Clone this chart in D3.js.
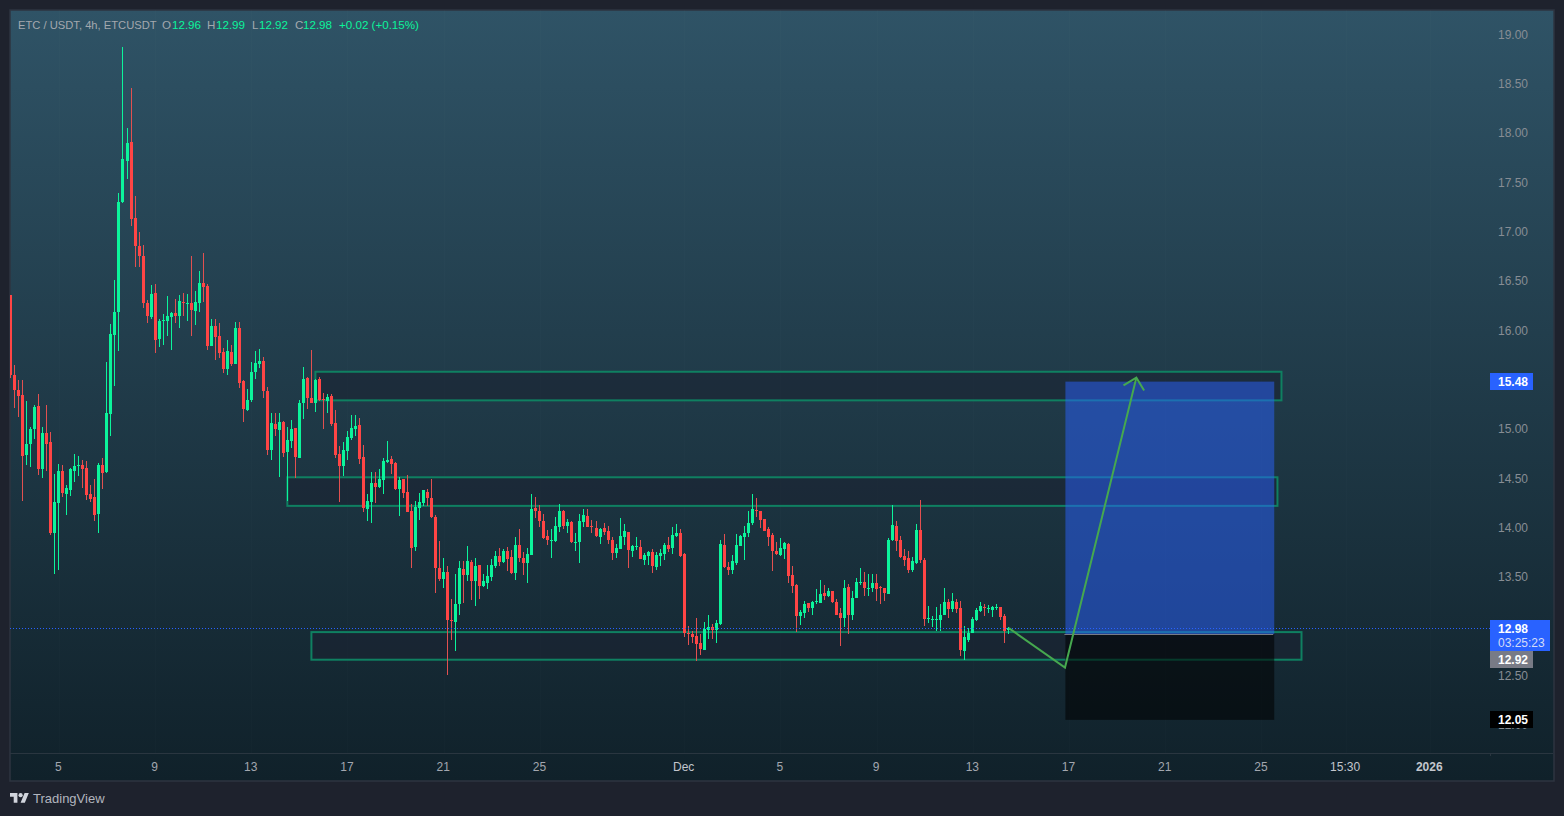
<!DOCTYPE html>
<html lang="en">
<head>
<meta charset="UTF-8">
<title>ETC / USDT, 4h</title>
<script src="https://d3js.org/d3.v7.min.js"></script>
<style>
  body, html { margin: 0; padding: 0; width: 100%; height: 100%; background: #1e222d; overflow: hidden; }
  svg { display: block; }
  text { font-family: "Liberation Sans", Arial, sans-serif; font-size: 12px; }
  .axis path { stroke: none; }
  .axis line { stroke: none; }
  .price-axis text { fill: #878d94; text-anchor: start; }
  .time-axis text { fill: #a3a7af; }
</style>
</head>
<body>
<svg id="chart" width="1564" height="816"></svg>
<script>
// 4h candles, oldest first
const opens = [
  16.36,15.55,15.39,15.34,14.74,14.85,15.00,15.23,14.59,14.96,
  14.87,13.94,14.25,14.57,14.34,14.38,14.57,14.62,14.63,14.60,
  14.34,14.31,14.14,14.63,14.56,15.15,15.95,16.19,17.30,17.72,
  17.91,17.14,16.86,16.75,16.28,16.14,16.38,15.91,16.09,16.09,
  16.14,16.18,16.15,16.29,16.27,16.28,16.20,16.28,16.48,16.45,
  15.84,16.04,15.94,15.78,15.61,15.78,15.66,16.02,15.49,15.19,
  15.29,15.58,15.66,15.69,15.38,14.79,15.05,14.99,15.07,14.77,
  14.88,15.01,14.71,15.26,15.52,15.31,15.26,15.51,15.30,15.28,
  15.33,15.06,14.75,14.62,14.78,14.91,15.00,15.04,14.72,14.19,
  14.26,14.45,14.41,14.48,14.66,14.70,14.65,14.39,14.49,14.36,
  14.17,13.80,14.20,14.25,14.36,14.30,14.11,13.59,13.48,13.55,
  13.06,13.04,13.22,13.58,13.52,13.65,13.46,13.62,13.41,13.44,
  13.50,13.61,13.71,13.65,13.76,13.70,13.54,13.82,13.69,13.64,
  13.72,14.20,14.17,14.07,13.91,13.86,13.86,14.01,14.17,14.02,
  14.06,13.84,13.85,14.06,14.12,14.02,14.00,13.90,14.00,13.97,
  13.87,13.74,13.78,13.90,13.96,13.76,13.80,13.80,13.67,13.71,
  13.75,13.60,13.71,13.73,13.82,13.79,13.91,13.94,13.73,12.93,
  12.92,12.90,12.83,12.76,12.96,12.99,12.96,13.02,13.82,13.60,
  13.57,13.64,13.81,13.90,13.95,14.05,14.18,14.17,14.09,13.99,
  13.92,13.76,13.72,13.78,13.83,13.52,13.42,13.10,13.13,13.24,
  13.18,13.25,13.24,13.34,13.31,13.36,13.25,13.13,13.08,13.40,
  13.11,13.29,13.44,13.45,13.38,13.39,13.44,13.40,13.39,13.33,
  13.87,14.02,13.87,13.71,13.69,13.57,13.64,13.98,13.67,13.07,
  13.06,13.06,13.06,13.11,13.25,13.17,13.25,13.18,12.75,12.86,
  12.93,13.06,13.15,13.19,13.17,13.16,13.18,13.19,13.10,12.96
];
const highs = [
  16.36,15.65,15.50,15.50,15.28,15.02,15.24,15.35,15.02,15.24,
  14.97,14.54,14.64,14.63,14.43,14.60,14.75,14.73,14.69,14.67,
  14.43,14.49,14.65,14.71,15.68,16.06,16.51,17.39,18.87,18.05,
  18.46,17.36,17.00,16.87,16.31,16.46,16.47,16.12,16.17,16.35,
  16.19,16.32,16.36,16.38,16.37,16.75,16.40,16.60,16.78,16.47,
  16.11,16.11,16.07,15.82,15.90,15.85,16.08,16.08,15.50,15.41,
  15.68,15.79,15.81,15.73,15.43,15.16,15.16,15.16,15.08,15.02,
  15.09,15.01,15.29,15.63,15.53,15.80,15.51,15.53,15.36,15.35,
  15.35,15.19,14.83,14.87,14.98,15.14,15.14,15.11,14.84,14.34,
  14.56,14.56,14.59,14.71,14.88,14.73,14.66,14.51,14.49,14.53,
  14.24,14.27,14.35,14.38,14.39,14.49,14.13,13.86,13.69,13.61,
  13.28,13.53,13.66,13.66,13.81,13.67,13.69,13.62,13.53,13.62,
  13.68,13.76,13.79,13.78,13.80,13.77,13.90,13.99,13.75,13.79,
  14.34,14.31,14.23,14.14,13.98,13.99,14.11,14.24,14.18,14.09,
  14.07,13.95,14.14,14.19,14.19,14.08,14.07,14.00,14.05,14.02,
  13.90,13.83,14.10,14.04,13.96,13.82,13.90,13.87,13.74,13.76,
  13.78,13.75,13.78,13.84,13.90,14.01,14.04,13.99,13.74,13.00,
  12.95,13.08,12.92,13.04,13.11,13.02,13.06,13.87,13.93,13.65,
  13.72,13.93,13.92,14.02,14.17,14.34,14.30,14.17,14.09,14.01,
  13.95,13.85,13.89,13.85,13.84,13.61,13.43,13.16,13.26,13.24,
  13.26,13.38,13.47,13.42,13.39,13.36,13.28,13.18,13.47,13.43,
  13.36,13.49,13.59,13.55,13.53,13.53,13.53,13.41,13.39,13.89,
  14.23,14.07,13.91,13.78,13.76,13.70,14.04,14.28,13.69,13.20,
  13.10,13.19,13.23,13.39,13.28,13.34,13.28,13.26,13.00,12.98,
  13.09,13.18,13.25,13.22,13.21,13.20,13.23,13.19,13.12,12.99
];
const lows = [
  15.52,15.21,15.12,14.27,14.63,14.61,14.90,14.53,14.50,14.57,
  13.92,13.53,13.57,14.31,14.13,14.32,14.46,14.52,14.40,14.28,
  14.26,14.07,13.95,14.39,14.55,14.93,15.44,15.79,17.29,17.53,
  17.06,16.64,16.64,16.23,16.07,16.11,15.77,15.83,15.85,15.94,
  15.80,16.07,16.02,16.15,16.09,15.94,16.05,16.19,16.29,15.80,
  15.84,15.70,15.72,15.57,15.55,15.64,15.66,15.42,15.07,15.18,
  15.27,15.51,15.62,15.31,14.74,14.69,14.93,14.51,14.72,14.27,
  14.81,14.50,14.71,15.10,15.20,15.26,15.17,15.28,15.00,15.16,
  15.03,14.71,14.26,14.52,14.69,14.89,14.93,14.64,14.16,14.07,
  14.05,14.25,14.40,14.34,14.65,14.54,14.38,14.12,14.30,14.16,
  13.59,13.76,14.08,14.22,14.22,14.10,13.34,13.46,13.39,12.50,
  12.86,12.75,13.11,13.24,13.46,13.27,13.20,13.28,13.40,13.38,
  13.46,13.59,13.61,13.64,13.56,13.53,13.47,13.65,13.52,13.44,
  13.72,14.10,14.01,13.88,13.82,13.69,13.85,13.96,13.99,13.94,
  13.84,13.76,13.64,14.01,14.01,13.94,13.90,13.83,13.92,13.83,
  13.67,13.69,13.78,13.82,13.59,13.70,13.77,13.68,13.62,13.62,
  13.54,13.57,13.61,13.67,13.75,13.73,13.90,13.70,12.89,12.81,
  12.83,12.65,12.71,12.76,12.87,12.87,12.83,13.01,13.59,13.52,
  13.53,13.62,13.81,13.67,13.90,14.03,14.11,14.00,13.97,13.81,
  13.56,13.72,13.71,13.68,13.44,13.34,12.94,13.01,13.08,13.14,
  13.11,13.23,13.24,13.27,13.30,13.24,13.11,12.80,12.99,12.92,
  13.06,13.29,13.42,13.31,13.31,13.35,13.26,13.23,13.26,13.33,
  13.86,13.76,13.69,13.61,13.54,13.55,13.63,13.64,13.00,13.03,
  12.99,12.95,12.95,13.11,13.08,13.14,13.13,12.70,12.66,12.84,
  12.93,13.05,13.14,13.10,13.13,13.09,13.16,13.06,12.83,12.92
];
const closes = [
  15.55,15.39,15.33,14.73,14.85,15.00,15.22,14.59,14.96,14.85,
  13.94,14.26,14.57,14.35,14.40,14.59,14.62,14.63,14.59,14.33,
  14.29,14.13,14.63,14.55,15.16,15.96,16.19,17.30,17.74,17.90,
  17.13,16.86,16.75,16.28,16.15,16.37,15.90,16.09,16.10,16.15,
  16.18,16.15,16.30,16.28,16.28,16.21,16.29,16.48,16.44,15.84,
  16.04,15.93,15.77,15.61,15.79,15.66,16.02,15.47,15.20,15.29,
  15.58,15.67,15.69,15.38,14.79,15.06,15.00,15.07,14.76,14.89,
  15.00,14.72,15.26,15.51,15.31,15.26,15.50,15.29,15.29,15.32,
  15.05,14.74,14.62,14.79,14.92,15.01,15.03,14.70,14.20,14.27,
  14.45,14.41,14.49,14.67,14.69,14.64,14.39,14.48,14.35,14.16,
  13.79,14.21,14.26,14.38,14.30,14.11,13.59,13.48,13.55,13.06,
  13.05,13.23,13.59,13.52,13.66,13.46,13.61,13.41,13.46,13.51,
  13.62,13.71,13.65,13.76,13.68,13.54,13.82,13.69,13.64,13.73,
  14.19,14.17,14.07,13.89,13.87,13.87,14.02,14.17,14.02,14.06,
  13.85,13.85,14.07,14.13,14.01,14.01,13.91,13.99,13.96,13.87,
  13.74,13.79,13.91,13.97,13.77,13.81,13.81,13.68,13.72,13.75,
  13.61,13.72,13.74,13.82,13.78,13.92,13.94,13.71,12.93,12.92,
  12.89,12.82,12.77,12.97,12.99,12.96,13.03,13.83,13.60,13.57,
  13.66,13.82,13.91,13.95,14.05,14.19,14.17,14.08,13.97,13.90,
  13.76,13.73,13.79,13.84,13.51,13.41,13.10,13.14,13.23,13.18,
  13.25,13.26,13.33,13.31,13.36,13.25,13.11,13.08,13.39,13.11,
  13.29,13.45,13.45,13.39,13.39,13.44,13.38,13.39,13.34,13.87,
  14.03,13.86,13.70,13.67,13.57,13.66,13.98,13.67,13.07,13.08,
  13.07,13.07,13.11,13.25,13.17,13.26,13.17,12.76,12.89,12.93,
  13.07,13.16,13.20,13.18,13.18,13.19,13.19,13.09,12.95,12.98
];

const priceTicks = [12,12.5,13,13.5,14,14.5,15,15.5,16,16.5,17,17.5,18,18.5,19];
const timeTickBars = [12,36,60,84,108,132,168,192,216,240,264,288,312,333,354];
const timeTickLabels = ["5","9","13","17","21","25","Dec","5","9","13","17","21","25","15:30","2026"];

// zones drawn on the chart: first bar, last bar, top price, bottom price
const zoneStart = [76, 69, 75];
const zoneEnd = [317, 316, 322];
const zoneTop = [15.58, 14.51, 12.94];
const zoneBottom = [15.29, 14.22, 12.66];

// long position tool
const posStart = 263.1, posEnd = 315.2;
const targetPrice = 15.48, entryPrice = 12.92, stopPrice = 12.05;

// projected path
const pathBars = [249, 263, 280.8];
const pathPrices = [12.98, 12.58, 15.52];

const svg = d3.select("#chart");
const x = d3.scaleLinear().domain([0, 249]).range([10.76, 1008.88]);
const y = d3.scaleLinear().domain([12, 19]).range([724.8, 34.5]);

const green = "#0cf49b", red = "#ff4545", redWick = "#e25050";

const defs = svg.append("defs");
const grad = defs.append("linearGradient").attr("id", "bg").attr("x1", 0).attr("y1", 0).attr("x2", 0).attr("y2", 1);
grad.append("stop").attr("offset", "0%").attr("stop-color", "#2f5366");
grad.append("stop").attr("offset", "100%").attr("stop-color", "#10212a");
defs.append("clipPath").attr("id", "plot").append("rect")
  .attr("x", 10).attr("y", 10).attr("width", 1480).attr("height", 743);

// panel
svg.append("rect").attr("x", 10).attr("y", 10).attr("width", 1544).attr("height", 771)
  .attr("fill", "url(#bg)").attr("stroke", "#2e3540").attr("stroke-width", 1.5);
svg.append("line").attr("x1", 10).attr("x2", 1553).attr("y1", 753.5).attr("y2", 753.5)
  .attr("stroke", "#2a3640");
svg.append("line").attr("x1", 1490.5).attr("x2", 1490.5).attr("y1", 753).attr("y2", 756)
  .attr("stroke", "#2a3640");

const plot = svg.append("g").attr("clip-path", "url(#plot)");

// faint grid
plot.append("g").selectAll("line").data(timeTickBars).enter().append("line")
  .attr("x1", d => Math.round(x(d)) + 0.5).attr("x2", d => Math.round(x(d)) + 0.5)
  .attr("y1", 10).attr("y2", 753)
  .attr("stroke", "rgba(255,255,255,0.012)");

// zones sit under the candles
plot.append("g").selectAll("rect").data(zoneStart).enter().append("rect")
  .attr("x", d => x(d))
  .attr("width", (d, i) => x(zoneEnd[i]) - x(d))
  .attr("y", (d, i) => y(zoneTop[i]))
  .attr("height", (d, i) => y(zoneBottom[i]) - y(zoneTop[i]))
  .attr("fill", "rgba(27,35,50,0.6)")
  .attr("stroke", "#0f8061")
  .attr("stroke-width", 2);

// candles
const bars = plot.append("g").attr("shape-rendering", "crispEdges")
  .selectAll("g").data(d3.range(opens.length)).enter().append("g");

bars.append("rect")
  .attr("x", i => Math.floor(x(i)))
  .attr("width", 1)
  .attr("y", i => Math.round(y(highs[i])))
  .attr("height", i => Math.max(1, Math.round(y(lows[i])) - Math.round(y(highs[i]))))
  .attr("fill", i => closes[i] >= opens[i] ? green : redWick);

bars.append("rect")
  .attr("x", i => Math.floor(x(i)) - 1)
  .attr("width", 3)
  .attr("y", i => Math.round(y(Math.max(opens[i], closes[i]))))
  .attr("height", i => Math.max(1, Math.round(y(Math.min(opens[i], closes[i]))) - Math.round(y(Math.max(opens[i], closes[i])))))
  .attr("fill", i => closes[i] >= opens[i] ? green : red);

// position tool
plot.append("rect").attr("x", x(posStart)).attr("width", x(posEnd) - x(posStart))
  .attr("y", y(targetPrice)).attr("height", y(entryPrice) - y(targetPrice))
  .attr("fill", "#2962ff").attr("fill-opacity", 0.5);
plot.append("rect").attr("x", x(posStart)).attr("width", x(posEnd) - x(posStart))
  .attr("y", y(entryPrice)).attr("height", y(stopPrice) - y(entryPrice))
  .attr("fill", "#000").attr("fill-opacity", 0.55);
plot.append("line").attr("x1", x(posStart) - 1).attr("x2", x(posEnd) - 1)
  .attr("y1", Math.round(y(entryPrice)) + 0.5).attr("y2", Math.round(y(entryPrice)) + 0.5)
  .attr("stroke", "#787b86");

// last price line
plot.append("line").attr("x1", 10).attr("x2", 1490)
  .attr("y1", Math.round(y(closes[closes.length - 1])) + 0.5)
  .attr("y2", Math.round(y(closes[closes.length - 1])) + 0.5)
  .attr("stroke", "#2962ff").attr("stroke-dasharray", "1 2");

// projected path with arrow head
const pathLine = d3.line().x(d => x(d[0])).y(d => y(d[1]));
const pathPoints = d3.zip(pathBars, pathPrices);
plot.append("path").attr("d", pathLine(pathPoints))
  .attr("fill", "none").attr("stroke", "#46a84f").attr("stroke-width", 2).attr("stroke-linejoin", "miter");
const tipX = x(pathBars[2]), tipY = y(pathPrices[2]);
const ang = Math.atan2(y(pathPrices[1]) - tipY, x(pathBars[1]) - tipX);
plot.append("path")
  .attr("d", d3.line()([
    [tipX + 15 * Math.cos(ang + Math.PI / 4), tipY + 15 * Math.sin(ang + Math.PI / 4)],
    [tipX, tipY],
    [tipX + 15 * Math.cos(ang - Math.PI / 4), tipY + 15 * Math.sin(ang - Math.PI / 4)]
  ]))
  .attr("fill", "none").attr("stroke", "#46a84f").attr("stroke-width", 2);

// axes
svg.append("g").attr("class", "axis price-axis")
  .attr("transform", "translate(1498,0)")
  .call(d3.axisRight(y).tickValues(priceTicks).tickSize(0).tickPadding(0).tickFormat(d3.format(".2f")));

const timeAxis = svg.append("g").attr("class", "axis time-axis")
  .attr("transform", "translate(-1,762)")
  .call(d3.axisBottom(x).tickValues(timeTickBars).tickSize(0).tickPadding(0)
    .tickFormat((d, i) => timeTickLabels[i]));
timeAxis.selectAll("text")
  .attr("font-weight", (d, i) => timeTickLabels[i] === "2026" ? "bold" : null)
  .style("fill", (d, i) => ["Dec", "15:30", "2026"].includes(timeTickLabels[i]) ? "#c3c6cd" : null);

// price tags
function tag(top, h, w, fill, label, textFill) {
  svg.append("rect").attr("x", 1490).attr("y", top).attr("width", w).attr("height", h).attr("fill", fill);
  svg.append("text").attr("x", 1498).attr("y", top + 13).attr("fill", textFill || "#fff")
    .attr("font-weight", "bold").text(label);
}
tag(373, 17, 43, "#2962ff", d3.format(".2f")(targetPrice));
tag(620, 31, 60, "#2962ff", d3.format(".2f")(closes[closes.length - 1]));
svg.append("text").attr("x", 1498).attr("y", 647).attr("fill", "#d4dcf8").text("03:25:23");
tag(651, 17, 43, "#787b86", d3.format(".2f")(entryPrice));
tag(711, 17, 43, "#000", d3.format(".2f")(stopPrice));

// header legend
const legendText = ["ETC / USDT, 4h, ETCUSDT", "O", "12.96", "H", "12.99", "L", "12.92", "C", "12.98", "+0.02 (+0.15%)"];
const legendX = [18, 162, 172, 207, 216, 252, 259, 295, 303, 339];
svg.append("g").selectAll("text").data(legendText).enter().append("text")
  .attr("x", (d, i) => legendX[i]).attr("y", 29)
  .attr("fill", (d, i) => (i === 0 || i % 2 === 1) && i !== 9 ? "#a3a8ae" : green)
  .style("font-size", (d, i) => i === 0 ? "11.2px" : "11.6px")
  .text(d => d);

// watermark
svg.append("path").attr("transform", "translate(10,791) scale(0.53)")
  .attr("fill", "#d1d4dc")
  .attr("d", "M14 22H7V11H0V4h14v18zM28 22h-8l7.5-18h8L28 22z");
svg.append("circle").attr("cx", 10 + 20 * 0.53).attr("cy", 791 + 8 * 0.53).attr("r", 4 * 0.53).attr("fill", "#d1d4dc");
svg.append("text").attr("x", 33).attr("y", 803).attr("fill", "#b2b5be")
  .style("font-size", "13px").text("TradingView");
</script>
</body>
</html>
